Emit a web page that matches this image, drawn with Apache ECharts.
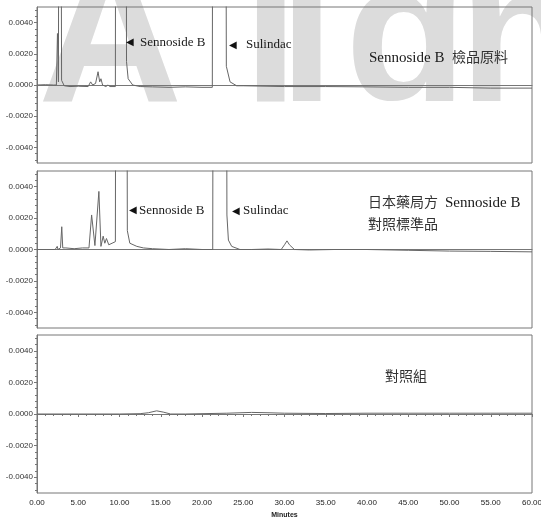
<!DOCTYPE html>
<html>
<head>
<meta charset="utf-8">
<script src="https://cdn.jsdelivr.net/npm/echarts@6/dist/echarts.min.js"></script>
<style>
html, body { margin: 0; padding: 0; background: #fff; }
#chart { width: 541px; height: 523px; }
</style>
</head>
<body>
<div id="chart"></div>
<script>
// [minutes, absorbance]
var sampleTrace = [
	[0, 0.0000], [1.0, 0.00002], [2.0, 0.0000], [2.35, 0.0000], [2.48, 0.0033], [2.6, 0.0002],
	[2.68, 0.0003], [2.72, 0.05], [2.92, 0.05], [2.98, 0.0003], [3.3, -0.00005], [4.0, -0.0001],
	[5.0, -0.00008], [6.2, -0.0001], [6.5, 0.0002], [6.75, 0.0000], [7.1, 0.0001], [7.4, 0.00085],
	[7.6, 0.0002], [7.75, 0.0004], [7.95, 0.0000], [8.1, 0.0001], [8.35, -0.0001], [8.6, 0.0000],
	[8.85, -0.0001], [9.5, -0.0001], [9.6, 0.05], [10.72, 0.05], [10.85, 0.0015], [11.05, 0.0004],
	[11.6, 0.0000], [12.5, -0.0001], [14, -0.00012], [16, -0.00015], [18, -0.00012], [20, -0.00015],
	[21.25, -0.00015], [21.4, 0.05], [22.75, 0.05], [22.95, 0.0012], [23.4, 0.0002], [24.2, -0.00005],
	[25, -0.00005], [30, -0.0001], [35, -0.0001], [40, -0.00012], [45, -0.00015], [50, -0.00015],
	[55, -0.0002], [60, -0.0002]
];
var standardTrace = [
	[0, 0.0000], [1.2, 0.0000], [2.2, 0.0000], [2.45, 0.0002], [2.55, 0.0000], [2.85, 0.0001],
	[3.0, 0.00145], [3.12, 0.0001], [3.5, 0.0001], [4.5, 0.00005], [5.5, 0.0001], [6.3, 0.0001],
	[6.62, 0.0022], [7.02, 0.00025], [7.5, 0.0037], [7.75, 0.0002], [8.02, 0.00085], [8.22, 0.0004],
	[8.42, 0.0007], [8.7, 0.0003], [9.1, 0.0004], [9.5, 0.0005], [9.65, 0.05], [10.75, 0.05],
	[10.95, 0.0012], [11.25, 0.0004], [12.1, 0.0002], [12.9, 0.0001], [14, 0.00005], [16, 0.0000],
	[18, 0.00005], [20, 0.0000], [21.3, 0.0000], [21.45, 0.05], [22.85, 0.05], [23.02, 0.0022],
	[23.2, 0.0006], [23.6, 0.0002], [24.6, 0.0000], [26, 0.0000], [28, 0.00003], [29.6, 0.0000],
	[30.0, 0.0003], [30.3, 0.00055], [30.6, 0.0003], [31.2, 0.0000], [33, -0.00003], [36, 0.0000],
	[40, 0.0000], [45, -0.00005], [50, -0.0001], [55, -0.00012], [60, -0.00015]
];
var blankTrace = [
	[0, 0.0000], [5, 0.0000], [10, 0.0000], [12.5, 0.00002], [13.5, 0.00008], [14.5, 0.0002],
	[15.3, 0.00012], [16.2, 0.0000], [18, 0.0000], [20, 0.00002], [23, 0.00005], [26, 0.0001],
	[28, 0.00008], [30, 0.00005], [35, 0.00003], [40, 0.00005], [45, 0.00005], [50, 0.00005],
	[55, 0.00005], [60, 0.00005]
];
var traces = [sampleTrace, standardTrace, blankTrace];

var yMajorTicks = [-0.004, -0.002, 0, 0.002, 0.004];
var yMinorTicks = [-0.0048, -0.0044, -0.0036, -0.0032, -0.0028, -0.0024, -0.0016, -0.0012, -0.0008, -0.0004,
	0.0004, 0.0008, 0.0012, 0.0016, 0.0024, 0.0028, 0.0032, 0.0036, 0.0044, 0.0048];

var myChart = echarts.init(document.getElementById('chart'));

var panelTops = [7, 171, 335];
var panelHeights = [156, 157, 158];
var axisColor = '#777';
var serif = '"Liberation Serif", "Noto Sans CJK TC", serif';

var grids = [], xAxes = [], yAxes = [], series = [];
for (var i = 0; i < 3; i++) {
	var last = i === 2;
	grids.push({
		left: 37, right: 9, top: panelTops[i], height: panelHeights[i],
		outerBoundsMode: 'none', containLabel: false,
		show: true, borderColor: axisColor, borderWidth: 1, backgroundColor: 'rgba(0,0,0,0)'
	});
	xAxes.push({
		gridIndex: i, type: 'value', min: 0, max: 60, interval: 5,
		axisLine: { show: true, lineStyle: { color: axisColor } },
		axisTick: { show: last, length: 3, lineStyle: { color: axisColor } },
		minorTick: { show: last, splitNumber: 5, length: 2, lineStyle: { color: axisColor } },
		axisLabel: {
			show: last, margin: 6, fontSize: 8, color: '#222', fontFamily: 'Liberation Sans',
			formatter: function (v) { return v.toFixed(2); }
		},
		splitLine: { show: false },
		name: last ? 'Minutes' : '',
		nameLocation: 'middle', nameGap: 19,
		nameTextStyle: { fontSize: 7, fontWeight: 'bold', color: '#222', fontFamily: 'Liberation Sans' }
	});
	// labelled ticks
	yAxes.push({
		gridIndex: i, type: 'value', min: -0.005, max: 0.005, position: 'left',
		axisLine: { show: true, lineStyle: { color: axisColor } },
		axisTick: { show: true, customValues: yMajorTicks, length: 3, lineStyle: { color: axisColor } },
		axisLabel: {
			customValues: yMajorTicks, margin: 4, fontSize: 8, color: '#333', fontFamily: 'Liberation Sans',
			formatter: function (v) { return (Math.abs(v) < 1e-9 ? 0 : v).toFixed(4); }
		},
		splitLine: { show: false }
	});
	// small ticks in between
	yAxes.push({
		gridIndex: i, type: 'value', min: -0.005, max: 0.005, position: 'left',
		axisLine: { show: false },
		axisTick: { show: true, customValues: yMinorTicks, length: 2, lineStyle: { color: axisColor } },
		axisLabel: { show: false },
		splitLine: { show: false }
	});
	series.push({
		type: 'line', xAxisIndex: i, yAxisIndex: 2 * i, data: traces[i],
		symbol: 'none', clip: true, silent: true,
		lineStyle: { color: '#666', width: 1 }
	});
}

function label(x, y, text, font, color) {
	return {
		type: 'text', x: x, y: y, z: 10, silent: true,
		style: { text: text, font: font, fill: color || '#1a1a1a', textAlign: 'left', textVerticalAlign: 'middle', align: 'left', verticalAlign: 'middle' }
	};
}
function mark(x, y, text) {
	return label(x, y, text, '13px ' + serif);
}
function arrow(x, y) {
	return label(x, y, '◀', '10px "DejaVu Sans"', '#111');
}
function wm(x, ch) {
	return {
		type: 'text', x: x, y: 46, z: -10, silent: true,
		style: { text: ch, font: 'bold 200px "Liberation Sans"', fill: '#dcdcdc', textAlign: 'left', textVerticalAlign: 'middle', align: 'left', verticalAlign: 'middle' }
	};
}

var graphic = [
	// faint background watermark
	wm(38, 'A'), wm(243, 'l'), wm(279, 'i'), wm(345, 'g'), wm(459, 'n'),
	{ type: 'rect', z: -5, silent: true, shape: { x: 340, y: 101, width: 135, height: 60 }, style: { fill: '#fff' } },

	arrow(126, 42), mark(140, 43, 'Sennoside B'),
	arrow(229, 45), mark(246, 45, 'Sulindac'),
	label(369, 58, 'Sennoside B', '15px ' + serif),
	label(452, 58, '檢品原料', '14px ' + serif, '#333'),

	arrow(129, 210), mark(139, 211, 'Sennoside B'),
	arrow(232, 211), mark(243, 211, 'Sulindac'),
	label(368, 203, '日本藥局方', '14px ' + serif, '#333'),
	label(445, 203, 'Sennoside B', '15px ' + serif),
	label(368, 225, '對照標準品', '14px ' + serif, '#333'),

	label(385, 377, '對照組', '14px ' + serif, '#333')
];

var option = {
	backgroundColor: '#fff',
	animation: false,
	grid: grids,
	xAxis: xAxes,
	yAxis: yAxes,
	series: series,
	graphic: graphic
};

myChart.setOption(option);
</script>
</body>
</html>
